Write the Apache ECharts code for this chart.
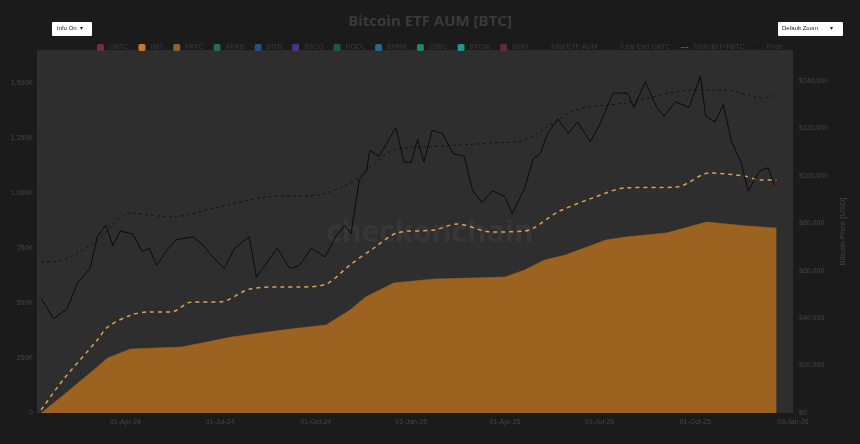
<!DOCTYPE html>
<html>
<head>
<meta charset="utf-8">
<script src="https://cdn.jsdelivr.net/npm/echarts@6/dist/echarts.min.js"></script>
<style>
  html, body { margin: 0; padding: 0; background: #1b1b1b; }
  #chart { width: 860px; height: 444px; }
</style>
</head>
<body>
<div id="chart"></div>
<script>
// AUM held by IBIT [BTC]
var ibitDates = ['2024-01-11', '2024-02-01', '2024-03-05', '2024-03-15', '2024-04-06', '2024-05-25', '2024-07-12',
  '2024-08-30', '2024-10-11', '2024-11-03', '2024-11-18', '2024-12-15', '2025-01-23', '2025-04-01', '2025-04-20',
  '2025-05-09', '2025-05-29', '2025-07-07', '2025-07-26', '2025-09-03', '2025-10-12', '2025-11-20', '2025-12-18'];
var ibitValues = [0, 80000, 209000, 250000, 291000, 300000, 345000,
  377000, 400000, 468000, 527000, 591000, 609000, 618000, 650000,
  695000, 718000, 786000, 800000, 818000, 868000, 850000, 841000];

// Total IBIT+FBTC [BTC]
var ibitFbtcDates = ['2024-01-11', '2024-02-01', '2024-03-05', '2024-03-15', '2024-04-06', '2024-04-23', '2024-05-15',
  '2024-06-04', '2024-07-01', '2024-07-30', '2024-08-30', '2024-09-16', '2024-10-11', '2024-11-03', '2024-11-26',
  '2024-12-18', '2025-01-23', '2025-02-14', '2025-03-19', '2025-04-20', '2025-05-22', '2025-06-24', '2025-07-26',
  '2025-09-13', '2025-10-15', '2025-11-17', '2025-12-03', '2025-12-18'];
var ibitFbtcValues = [14000, 150000, 332000, 391000, 445000, 459000, 459000,
  505000, 505000, 564000, 573000, 573000, 586000, 673000, 750000,
  818000, 832000, 859000, 823000, 827000, 914000, 977000, 1023000,
  1027000, 1091000, 1077000, 1059000, 1059000];

// Total ETF AUM [BTC]
var totalDates = ['2024-01-11', '2024-02-01', '2024-03-05', '2024-04-06', '2024-05-15', '2024-06-26', '2024-08-14',
  '2024-10-03', '2024-11-03', '2024-11-18', '2024-12-15', '2025-01-14', '2025-03-19', '2025-04-20', '2025-06-08',
  '2025-07-26', '2025-09-29', '2025-10-31', '2025-12-03', '2025-12-18'];
var totalValues = [686000, 695000, 786000, 909000, 891000, 932000, 982000,
  991000, 1045000, 1104000, 1195000, 1209000, 1227000, 1241000, 1377000,
  1409000, 1468000, 1468000, 1432000, 1445000];

// BTC price [USD]
var priceDates = ['2024-01-11', '2024-01-23', '2024-02-05', '2024-02-15', '2024-02-27', '2024-03-05', '2024-03-13',
  '2024-03-20', '2024-03-27', '2024-04-08', '2024-04-17', '2024-04-24', '2024-05-01', '2024-05-10', '2024-05-20',
  '2024-06-05', '2024-06-15', '2024-06-24', '2024-07-05', '2024-07-15', '2024-07-29', '2024-08-05', '2024-08-15',
  '2024-08-25', '2024-09-06', '2024-09-15', '2024-09-27', '2024-10-10', '2024-10-20', '2024-10-29', '2024-11-04',
  '2024-11-12', '2024-11-19', '2024-11-22', '2024-12-01', '2024-12-09', '2024-12-17', '2024-12-25', '2025-01-01',
  '2025-01-07', '2025-01-13', '2025-01-21', '2025-01-31', '2025-02-10', '2025-02-21', '2025-03-01', '2025-03-10',
  '2025-03-20', '2025-04-01', '2025-04-08', '2025-04-20', '2025-04-28', '2025-05-05', '2025-05-12', '2025-05-22',
  '2025-06-01', '2025-06-10', '2025-06-22', '2025-07-01', '2025-07-14', '2025-07-28', '2025-08-03', '2025-08-14',
  '2025-08-25', '2025-09-01', '2025-09-12', '2025-09-25', '2025-10-06', '2025-10-11', '2025-10-20', '2025-10-28',
  '2025-11-05', '2025-11-14', '2025-11-21', '2025-12-02', '2025-12-10', '2025-12-16'];
var priceValues = [46500, 39500, 43000, 52000, 57000, 68000, 72000,
  65000, 70000, 69000, 63000, 64000, 58000, 63000, 67000,
  68000, 65000, 61000, 57000, 64000, 68000, 54000, 59000,
  64000, 57000, 58000, 64000, 61000, 68000, 72000, 69000,
  88000, 91000, 98000, 96000, 101000, 106000, 94000, 94000,
  102000, 94000, 105000, 104000, 97000, 96000, 84000, 80000,
  84000, 82000, 76000, 85000, 95000, 97000, 104000, 109000,
  104000, 108000, 101000, 107000, 118000, 118000, 113000, 122000,
  113000, 110000, 115000, 113000, 124000, 110000, 108000, 114000,
  101000, 94000, 84000, 91000, 92000, 86000];

var etfNames = ['GBTC', 'IBIT', 'FBTC', 'ARKB', 'BITB', 'BTCO', 'HODL', 'BRRR', 'EZBC', 'BTCW', 'DEFI'];
var etfColors = ['#7a2a3a', '#c87a25', '#8a6236', '#236f4a', '#24508a', '#4c3488', '#1b5a3e', '#236890', '#23855a', '#22948a', '#6a2640'];

function pairs(dates, values) {
  var out = [];
  for (var i = 0; i < dates.length; i++) out.push([dates[i], values[i]]);
  return out;
}

var MONTHS = ['Jan', 'Feb', 'Mar', 'Apr', 'May', 'Jun', 'Jul', 'Aug', 'Sep', 'Oct', 'Nov', 'Dec'];
var dim = '#454545';

var series = [];
for (var i = 0; i < etfNames.length; i++) {
  if (etfNames[i] === 'IBIT') {
    series.push({
      name: 'IBIT', type: 'line', data: pairs(ibitDates, ibitValues), symbol: 'none', z: 1,
      lineStyle: { width: 0.5, color: '#a0661f' }, itemStyle: { color: etfColors[i] },
      areaStyle: { color: '#9c621f', opacity: 1 }
    });
  } else {
    series.push({ name: etfNames[i], type: 'line', data: [], itemStyle: { color: etfColors[i] } });
  }
}
series.push({ name: 'Total ETF AUM', type: 'line', data: [], itemStyle: { color: '#111' }, lineStyle: { color: '#111' } });
series.push({
  name: 'Total Excl GBTC', type: 'line', data: pairs(totalDates, totalValues), symbol: 'none', smooth: 0.3,
  lineStyle: { color: '#151515', width: 1, type: [3, 3] }, itemStyle: { color: '#151515' }
});
series.push({
  name: 'Total IBIT+FBTC', type: 'line', data: pairs(ibitFbtcDates, ibitFbtcValues), symbol: 'none', smooth: 0.3,
  lineStyle: { color: '#e0a050', width: 1.5, type: [4, 4] }, itemStyle: { color: '#e0a050' }, z: 3
});
series.push({
  name: 'Price', type: 'line', data: pairs(priceDates, priceValues), yAxisIndex: 2, symbol: 'none',
  lineStyle: { color: '#0a0a0a', width: 1 }, itemStyle: { color: '#0a0a0a' }, z: 4
});

var legendData = etfNames.map(function (n) { return { name: n, icon: 'roundRect' }; });
legendData.push({ name: 'Total ETF AUM', icon: 'path://M0,5L20,5L20,6L0,6Z' });
legendData.push({ name: 'Total Excl GBTC', icon: 'path://M0,5L6,5L6,6L0,6ZM8,5L13,5L13,6L8,6ZM15,5L20,5L20,6L15,6Z' });
legendData.push({ name: 'Total IBIT+FBTC', icon: 'path://M0,4L6,4L6,6L0,6ZM8,4L13,4L13,6L8,6ZM15,4L20,4L20,6L15,6Z' });
legendData.push({ name: 'Price', icon: 'path://M0,5L20,5L20,6L0,6Z' });

var chart = echarts.init(document.getElementById('chart'));
chart.setOption({
  backgroundColor: '#1b1b1b',
  animation: false,
  title: {
    text: 'Bitcoin ETF AUM [BTC]', left: 'center', top: 9,
    textStyle: { color: '#3a3a3a', fontSize: 15, fontWeight: 'bold', fontFamily: 'Open Sans' }
  },
  legend: {
    data: legendData, top: 39, left: 92, itemWidth: 7, itemHeight: 7, itemGap: 10,
    textStyle: { color: '#3c3c3c', fontSize: 7 }, inactiveColor: '#333'
  },
  grid: {
    left: 37, right: 67, top: 50, bottom: 31, outerBoundsMode: 'none', containLabel: false,
    show: true, backgroundColor: '#2e2e2e', borderWidth: 0
  },
  graphic: [
    { type: 'text', left: 'center', top: 218, z: 0,
      style: { text: 'checkonchain', fill: 'rgba(255,255,255,0.045)', font: 'bold 30px "Open Sans"' } },
    { type: 'rect', left: 52, top: 22, shape: { width: 40, height: 14, r: 1 }, style: { fill: '#fff' } },
    { type: 'text', left: 57, top: 25, style: { text: 'Info On  \u25BE', fill: '#222', font: '6px sans-serif' } },
    { type: 'rect', left: 778, top: 22, shape: { width: 65, height: 14, r: 1 }, style: { fill: '#fff' } },
    { type: 'text', left: 782, top: 25, style: { text: 'Default Zoom       \u25BE', fill: '#222', font: '6px sans-serif' } }
  ],
  xAxis: {
    type: 'time', min: '2024-01-07', max: '2026-01-03', splitNumber: 8,
    axisLine: { show: false }, axisTick: { show: false }, splitLine: { show: false },
    axisLabel: {
      color: dim, fontSize: 7, showMaxLabel: true, margin: 6,
      formatter: function (v) {
        var d = new Date(v);
        return ('0' + d.getDate()).slice(-2) + '-' + MONTHS[d.getMonth()] + '-' + String(d.getFullYear()).slice(2);
      }
    }
  },
  yAxis: [
    {
      type: 'value', min: 0, max: 1650000, interval: 250000,
      name: 'AUM [BTC]', nameLocation: 'middle', nameGap: 28, nameTextStyle: { color: dim, fontSize: 8 },
      axisLine: { show: false }, axisTick: { show: false }, splitLine: { show: false },
      axisLabel: {
        color: dim, fontSize: 7, showMaxLabel: false, margin: 4,
        formatter: function (v) { return v === 0 ? '0' : (v / 1000).toLocaleString('en-US') + 'K'; }
      }
    },
    {
      type: 'value', min: 0, max: 153000, interval: 20000, position: 'right',
      name: 'Bitcoin Price [USD]', nameLocation: 'middle', nameGap: 40, nameRotate: 90,
      nameTextStyle: { color: dim, fontSize: 8 },
      axisLine: { show: false }, axisTick: { show: false }, splitLine: { show: false },
      axisLabel: {
        color: dim, fontSize: 7, showMaxLabel: false, margin: 6,
        formatter: function (v) { return '$' + v.toLocaleString('en-US'); }
      }
    },
    { type: 'value', min: 6700, max: 133000, show: false }
  ],
  series: series
});
</script>
</body>
</html>
